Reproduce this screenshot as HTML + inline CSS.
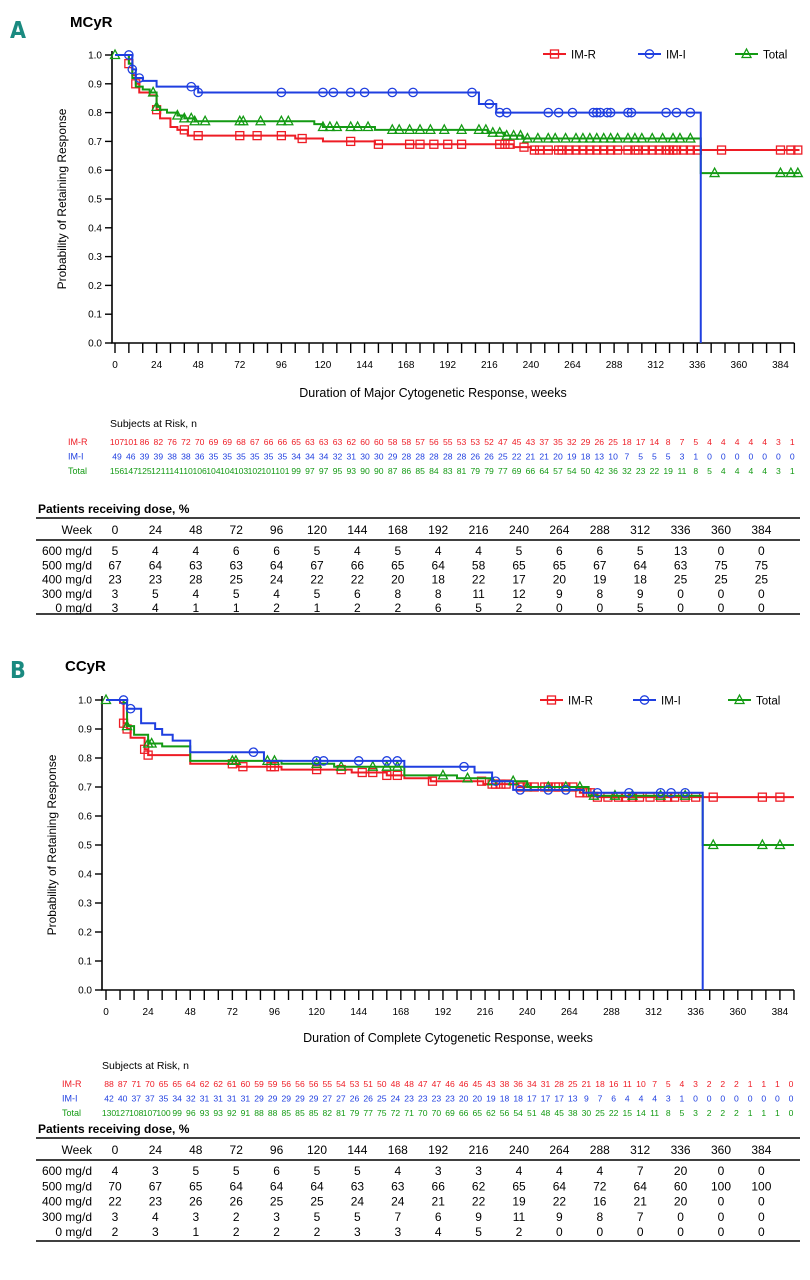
<!DOCTYPE html>
<html><head><meta charset="utf-8"><style>
body{margin:0;background:#fff;}
svg{display:block;font-family:"Liberation Sans",sans-serif;}
</style></head><body>
<svg id="fig" width="810" height="1280" viewBox="0 0 810 1280"></svg>
<script>
// ---------- Panel A data ----------
const aRT=[[0,1],[8,0.97],[10,0.93],[12,0.90],[14,0.87],[20,0.86],[24,0.81],[26,0.78],[32,0.75],[36,0.74],[42,0.72],[100,0.72],[104,0.71],[120,0.70],[150,0.69],[230,0.68],[240,0.67],[395,0.67]];
const aRC=[8,12,24,40,48,72,82,96,108,136,152,170,176,184,192,200,222,225,228,236,242,245,250,256,258,262,266,270,274,278,282,286,290,296,300,302,306,310,314,318,320,322,324,328,332,336,350,384,390,394];
const aIT=[[0,1],[10,0.95],[12,0.92],[16,0.91],[24,0.89],[48,0.87],[206,0.87],[210,0.83],[220,0.80],[338,0.80],[338,0]];
const aIC=[8,10,14,44,48,96,120,126,136,144,160,172,206,216,222,226,250,256,264,276,278,280,284,286,296,298,318,324,332];
const aTT=[[0,1],[8,0.97],[10,0.92],[12,0.89],[16,0.88],[20,0.87],[24,0.82],[26,0.81],[30,0.80],[36,0.79],[40,0.78],[46,0.77],[115,0.76],[120,0.75],[150,0.74],[215,0.73],[225,0.72],[235,0.71],[338,0.71],[338,0.59],[395,0.59]];
const aTC=[0,22,24,36,40,44,46,52,72,74,84,96,100,120,124,128,136,140,146,160,164,170,176,182,190,200,210,214,218,222,226,230,234,238,244,250,254,260,266,270,274,278,282,286,290,296,300,304,310,316,322,326,332,346,384,390,394];
const aRisk=[[107,101,86,82,76,72,70,69,69,68,67,66,66,65,63,63,63,62,60,60,58,58,57,56,55,53,53,52,47,45,43,37,35,32,29,26,25,18,17,14,8,7,5,4,4,4,4,4,3,1],
[49,46,39,39,38,38,36,35,35,35,35,35,35,34,34,34,32,31,30,30,29,28,28,28,28,28,26,26,25,22,21,21,20,19,18,13,10,7,5,5,5,3,1,0,0,0,0,0,0,0],
[156,147,125,121,114,110,106,104,104,103,102,101,101,99,97,97,95,93,90,90,87,86,85,84,83,81,79,79,77,69,66,64,57,54,50,42,36,32,23,22,19,11,8,5,4,4,4,4,3,1]];
const aDose=[[5,4,4,6,6,5,4,5,4,4,5,6,6,5,13,0,0],[67,64,63,63,64,67,66,65,64,58,65,65,67,64,63,75,75],[23,23,28,25,24,22,22,20,18,22,17,20,19,18,25,25,25],[3,5,4,5,4,5,6,8,8,11,12,9,8,9,0,0,0],[3,4,1,1,2,1,2,2,6,5,2,0,0,5,0,0,0]];
// ---------- Panel B data ----------
const bRT=[[0,1],[8,0.99],[10,0.92],[12,0.90],[14,0.87],[22,0.83],[24,0.81],[48,0.78],[75,0.77],[100,0.76],[140,0.75],[160,0.74],[170,0.73],[185,0.72],[215,0.71],[235,0.70],[270,0.68],[280,0.665],[392,0.665]];
const bRC=[10,12,22,24,72,78,94,96,120,134,146,152,160,166,186,214,220,222,225,228,236,240,244,250,252,256,258,262,266,270,274,276,280,286,292,296,300,304,310,316,320,324,330,336,346,374,384];
const bIT=[[0,1],[12,0.97],[20,0.92],[28,0.90],[32,0.88],[38,0.86],[48,0.82],[88,0.82],[90,0.79],[168,0.79],[170,0.77],[208,0.77],[210,0.75],[220,0.72],[232,0.69],[272,0.68],[340,0.68],[340,0]];
const bIC=[10,14,84,120,124,144,160,166,204,222,236,252,262,280,298,316,322,330];
const bTT=[[0,1],[10,0.99],[12,0.91],[16,0.88],[24,0.85],[32,0.84],[48,0.79],[100,0.78],[130,0.77],[170,0.74],[200,0.73],[220,0.72],[240,0.70],[275,0.67],[340,0.67],[340,0.50],[392,0.50]];
const bTC=[0,12,24,26,72,74,92,96,120,134,152,160,166,192,206,220,232,240,252,262,270,278,290,300,316,330,346,374,384];
const bRisk=[[88,87,71,70,65,65,64,62,62,61,60,59,59,56,56,56,55,54,53,51,50,48,48,47,47,46,46,45,43,38,36,34,31,28,25,21,18,16,11,10,7,5,4,3,2,2,2,1,1,1,0],
[42,40,37,37,35,34,32,31,31,31,31,29,29,29,29,29,27,27,26,26,25,24,23,23,23,23,20,20,19,18,18,17,17,17,13,9,7,6,4,4,4,3,1,0,0,0,0,0,0,0,0],
[130,127,108,107,100,99,96,93,93,92,91,88,88,85,85,85,82,81,79,77,75,72,71,70,70,69,66,65,62,56,54,51,48,45,38,30,25,22,15,14,11,8,5,3,2,2,2,1,1,1,0]];
const bDose=[[4,3,5,5,6,5,5,4,3,3,4,4,4,7,20,0,0],[70,67,65,64,64,64,63,63,66,62,65,64,72,64,60,100,100],[22,23,26,26,25,25,24,24,21,22,19,22,16,21,20,0,0],[3,4,3,2,3,5,5,7,6,9,11,9,8,7,0,0,0],[2,3,1,2,2,2,3,3,4,5,2,0,0,0,0,0,0]];
const weeks=[0,24,48,72,96,120,144,168,192,216,240,264,288,312,336,360,384];
const doseLabels=["600 mg/d","500 mg/d","400 mg/d","300 mg/d","0 mg/d"];
const yTicks=[0,0.1,0.2,0.3,0.4,0.5,0.6,0.7,0.8,0.9,1.0];
const RED="#ee1c25",BLUE="#1f3fe0",GREEN="#139a13";
const svg=document.getElementById('fig');
const NS="http://www.w3.org/2000/svg";
function mk(tag,attrs,parent){const e=document.createElementNS(NS,tag);for(const k in attrs)e.setAttribute(k,attrs[k]);(parent||svg).appendChild(e);return e;}
function txt(s,x,y,attrs,parent){const t=mk('text',Object.assign({x:x,y:y},attrs),parent);t.textContent=s;return t;}

function stepVal(steps,t){let v=steps[0][1];for(const p of steps){if(p[0]<=t)v=p[1];else break;}return v;}
function marker(g,type,x,y,col){
  let m;
  if(type==='sq'){m=mk('rect',{x:x-4,y:y-4,width:8,height:8,fill:'none',stroke:col,'stroke-width':1.3},g);}
  else if(type==='ci'){m=mk('circle',{cx:x,cy:y,r:4.2,fill:'none',stroke:col,'stroke-width':1.3},g);}
  else {m=mk('path',{d:`M${x-4.5},${y+3.5}L${x},${y-5}L${x+4.5},${y+3.5}Z`,fill:'none',stroke:col,'stroke-width':1.3},g);}
  return m;
}

function panel(o){
  const X=t=>o.x0+t*o.k, Y=p=>o.yb-(o.yb-o.yt)*p;
  const g=mk('g',{});
  
  
  const L=txt(o.letter,o.lx,o.ly,{'font-size':23,'font-weight':'bold',fill:'#1a8a80','font-family':'"DejaVu Sans Condensed","Liberation Sans",sans-serif'},g);
  
  const T=txt(o.title,o.tx,o.ty,{'font-size':15,'font-weight':'bold'},g);
  
  const ax=mk('path',{d:`M${o.ax},${o.yt-4}V${o.yb}H${X(o.xmax)}`,stroke:'#000','stroke-width':1.6,fill:'none'},g);
  
  for(const v of yTicks){mk('line',{x1:o.ax-7,x2:o.ax,y1:Y(v),y2:Y(v),stroke:'#000','stroke-width':1.4},g);
    const t=txt(v.toFixed(1),o.ax-10,Y(v)+3.5,{'font-size':10,'text-anchor':'end'},g);
    }
  for(let w=0;w<=o.xmax;w+=8){mk('line',{x1:X(w),x2:X(w),y1:o.yb,y2:o.yb+10,stroke:'#000','stroke-width':1.4},g);
    if(w%24===0&&w<=384){const t=txt(String(w),X(w),o.yb+25,{'font-size':10,'text-anchor':'middle'},g);
      }}
  const yt=txt('Probability of Retaining Response',0,0,{'font-size':12,'text-anchor':'middle',transform:`translate(${o.ytx},${(o.yt+o.yb)/2}) rotate(-90)`},g);
  
  const xt=txt(o.xtitle,o.xtx,o.xty,{'font-size':12.5,'text-anchor':'middle'},g);
  
  const series=[[o.R,o.RC,RED,'sq','im-r'],[o.I,o.IC,BLUE,'ci','im-i'],[o.T,o.TC,GREEN,'tr','total']];
  for(const [steps,cens,col,typ,nm] of [series[0],series[2],series[1]]){
    const sg=mk('g',{},g);
    
    let d=`M${X(steps[0][0])},${Y(steps[0][1])}`;
    for(let i=1;i<steps.length;i++){d+=`H${X(steps[i][0])}V${Y(steps[i][1])}`;}
    mk('path',{d:d,stroke:col,'stroke-width':2,fill:'none'},sg);
    for(const c of cens){const m=marker(sg,typ,X(c),Y(stepVal(steps,c)),col);
      }
  }
  const lg=[['IM-R',RED,'sq'],['IM-I',BLUE,'ci'],['Total',GREEN,'tr']];
  lg.forEach((e,i)=>{const lx=o.legx[i];const eg=mk('g',{},g);
    
    mk('line',{x1:lx,x2:lx+23,y1:o.legy,y2:o.legy,stroke:e[1],'stroke-width':2},eg);
    marker(eg,e[2],lx+11.5,o.legy,e[1]);
    txt(e[0],lx+28,o.legy+4.5,{'font-size':11.5},eg);});
  const rg=mk('g',{},g);
  
  txt('Subjects at Risk, n',o.rtx,o.rty,{'font-size':10.5},rg);
  const names=['IM-R','IM-I','Total'],cols=[RED,BLUE,GREEN];
  o.risk.forEach((row,r)=>{const y=o.rty+18+r*14.5;
    txt(names[r],o.rlx,y,{'font-size':9,fill:cols[r]},rg);
    row.forEach((v,i)=>{txt(String(v),o.rx0+i*o.rdx,y,{'font-size':8.6,fill:cols[r],'text-anchor':'middle','font-family':'"Liberation Sans Narrow","Liberation Sans",sans-serif'},rg);});});
  const dg=mk('g',{},g);
  
  txt('Patients receiving  dose, %',38,o.dy,{'font-size':12,'font-weight':'bold'},dg);
  mk('line',{x1:36,x2:800,y1:o.dy+5,y2:o.dy+5,stroke:'#000','stroke-width':1.4},dg);
  mk('line',{x1:36,x2:800,y1:o.dy+27,y2:o.dy+27,stroke:'#000','stroke-width':1.4},dg);
  mk('line',{x1:36,x2:800,y1:o.dy+o.dbot,y2:o.dy+o.dbot,stroke:'#000','stroke-width':1.4},dg);
  txt('Week',92,o.dy+21,{'font-size':12,'text-anchor':'end'},dg);
  weeks.forEach((w,i)=>txt(String(w),115+i*40.4,o.dy+21,{'font-size':12,'text-anchor':'middle'},dg));
  o.dose.forEach((row,r)=>{const y=o.dy+42+r*o.dsp;
    txt(doseLabels[r],92,y,{'font-size':12,'text-anchor':'end'},dg);
    row.forEach((v,i)=>txt(String(v),115+i*40.4,y,{'font-size':12,'text-anchor':'middle'},dg));});
}
panel({id:'mcyr',letter:'A',lx:10,ly:38,title:'MCyR',tx:70,ty:27,x0:115,k:1.733,ax:112,yt:55,yb:343,ytx:66,xmax:392,
  xtitle:'Duration of Major Cytogenetic Response, weeks',xtx:433,xty:397,
  R:aRT,RC:aRC,I:aIT,IC:aIC,T:aTT,TC:aTC,legx:[543,638,735],legy:54,
  rtx:110,rty:427,rlx:68,rx0:117,rdx:13.78,risk:aRisk,dose:aDose,dy:513,dsp:14.3,dbot:101});
panel({id:'ccyr',letter:'B',lx:10,ly:678,title:'CCyR',tx:65,ty:671,x0:106,k:1.755,ax:102,yt:700,yb:990,ytx:56,xmax:392,
  xtitle:'Duration of Complete Cytogenetic Response, weeks',xtx:448,xty:1042,
  R:bRT,RC:bRC,I:bIT,IC:bIC,T:bTT,TC:bTC,legx:[540,633,728],legy:700,
  rtx:102,rty:1069,rlx:62,rx0:109,rdx:13.64,risk:bRisk,dose:bDose,dy:1133,dsp:15.3,dbot:108});
</script>
</body></html>
